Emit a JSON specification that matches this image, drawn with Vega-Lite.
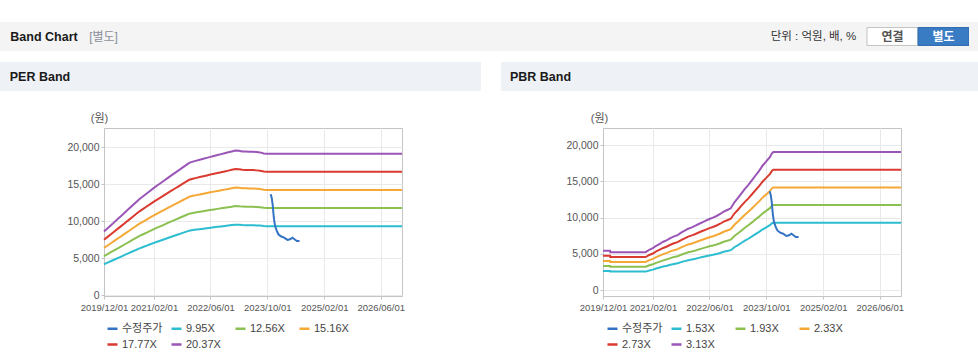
{
  "$schema": "https://vega.github.io/schema/vega-lite/v6.json",
  "padding": {"top": 22, "left": 0, "right": 0, "bottom": 0},
  "background": "#ffffff",
  "bounds": "full",
  "spacing": 11,
  "resolve": {"scale": {"color": "independent", "fill": "independent", "stroke": "independent"}, "legend": {"color": "independent"}},
  "config": {
    "font": "Liberation Sans, Noto Sans CJK KR, sans-serif",
    "view": {"stroke": null},
    "axis": {"labelFontSize": 9.5, "labelColor": "#555555", "tickSize": 3, "tickColor": "#c4c4c4", "domainColor": "#c4c4c4", "gridColor": "#e9e9e9", "labelFont": "Liberation Sans, Noto Sans CJK KR, sans-serif"}
  },
  "datasets": {
    "perNames": [{"k": "a", "n": "9.95X"}, {"k": "b", "n": "12.56X"}, {"k": "c", "n": "15.16X"}, {"k": "e", "n": "17.77X"}, {"k": "f", "n": "20.37X"}],
    "pbrNames": [{"k": "a", "n": "1.53X"}, {"k": "b", "n": "1.93X"}, {"k": "c", "n": "2.33X"}, {"k": "e", "n": "2.73X"}, {"k": "f", "n": "3.13X"}],
    "perBands": [
      {"d": "2019-12-01", "a": 4203, "b": 5305, "c": 6403, "e": 7506, "f": 8604},
      {"d": "2020-01-01", "a": 4421, "b": 5580, "c": 6735, "e": 7895, "f": 9050},
      {"d": "2020-02-01", "a": 4638, "b": 5855, "c": 7067, "e": 8284, "f": 9496},
      {"d": "2020-03-01", "a": 4843, "b": 6114, "c": 7379, "e": 8649, "f": 9915},
      {"d": "2020-04-01", "a": 5060, "b": 6388, "c": 7710, "e": 9038, "f": 10360},
      {"d": "2020-05-01", "a": 5270, "b": 6652, "c": 8029, "e": 9411, "f": 10788},
      {"d": "2020-06-01", "a": 5490, "b": 6930, "c": 8364, "e": 9804, "f": 11239},
      {"d": "2020-07-01", "a": 5701, "b": 7196, "c": 8686, "e": 10181, "f": 11671},
      {"d": "2020-08-01", "a": 5919, "b": 7471, "c": 9018, "e": 10570, "f": 12117},
      {"d": "2020-09-01", "a": 6139, "b": 7749, "c": 9353, "e": 10964, "f": 12568},
      {"d": "2020-10-01", "a": 6348, "b": 8013, "c": 9672, "e": 11337, "f": 12996},
      {"d": "2020-11-01", "a": 6533, "b": 8246, "c": 9953, "e": 11667, "f": 13374},
      {"d": "2020-12-01", "a": 6711, "b": 8471, "c": 10225, "e": 11985, "f": 13739},
      {"d": "2021-01-01", "a": 6896, "b": 8704, "c": 10506, "e": 12315, "f": 14117},
      {"d": "2021-02-01", "a": 7078, "b": 8935, "c": 10785, "e": 12641, "f": 14491},
      {"d": "2021-03-01", "a": 7235, "b": 9132, "c": 11023, "e": 12920, "f": 14811},
      {"d": "2021-04-01", "a": 7404, "b": 9346, "c": 11281, "e": 13223, "f": 15158},
      {"d": "2021-05-01", "a": 7569, "b": 9554, "c": 11532, "e": 13517, "f": 15495},
      {"d": "2021-06-01", "a": 7741, "b": 9771, "c": 11794, "e": 13824, "f": 15847},
      {"d": "2021-07-01", "a": 7906, "b": 9980, "c": 12045, "e": 14119, "f": 16185},
      {"d": "2021-08-01", "a": 8071, "b": 10188, "c": 12297, "e": 14414, "f": 16523},
      {"d": "2021-09-01", "a": 8238, "b": 10399, "c": 12551, "e": 14712, "f": 16865},
      {"d": "2021-10-01", "a": 8398, "b": 10602, "c": 12796, "e": 14999, "f": 17194},
      {"d": "2021-11-01", "a": 8566, "b": 10812, "c": 13051, "e": 15298, "f": 17536},
      {"d": "2021-12-01", "a": 8728, "b": 11018, "c": 13299, "e": 15588, "f": 17869},
      {"d": "2022-01-01", "a": 8810, "b": 11122, "c": 13424, "e": 15735, "f": 18037},
      {"d": "2022-02-01", "a": 8874, "b": 11202, "c": 13520, "e": 15848, "f": 18167},
      {"d": "2022-03-01", "a": 8933, "b": 11276, "c": 13611, "e": 15954, "f": 18288},
      {"d": "2022-04-01", "a": 8997, "b": 11357, "c": 13708, "e": 16068, "f": 18419},
      {"d": "2022-05-01", "a": 9058, "b": 11435, "c": 13802, "e": 16178, "f": 18545},
      {"d": "2022-06-01", "a": 9123, "b": 11515, "c": 13899, "e": 16292, "f": 18676},
      {"d": "2022-07-01", "a": 9182, "b": 11591, "c": 13990, "e": 16399, "f": 18798},
      {"d": "2022-08-01", "a": 9241, "b": 11665, "c": 14080, "e": 16504, "f": 18919},
      {"d": "2022-09-01", "a": 9303, "b": 11743, "c": 14174, "e": 16614, "f": 19045},
      {"d": "2022-10-01", "a": 9360, "b": 11815, "c": 14261, "e": 16716, "f": 19162},
      {"d": "2022-11-01", "a": 9422, "b": 11893, "c": 14355, "e": 16826, "f": 19288},
      {"d": "2022-12-01", "a": 9479, "b": 11965, "c": 14442, "e": 16928, "f": 19405},
      {"d": "2023-01-01", "a": 9540, "b": 12043, "c": 14536, "e": 17038, "f": 19531},
      {"d": "2023-02-01", "a": 9528, "b": 12027, "c": 14516, "e": 17016, "f": 19505},
      {"d": "2023-03-01", "a": 9483, "b": 11970, "c": 14448, "e": 16936, "f": 19414},
      {"d": "2023-04-01", "a": 9472, "b": 11956, "c": 14431, "e": 16916, "f": 19391},
      {"d": "2023-05-01", "a": 9461, "b": 11943, "c": 14415, "e": 16897, "f": 19369},
      {"d": "2023-06-01", "a": 9461, "b": 11943, "c": 14415, "e": 16897, "f": 19369},
      {"d": "2023-07-01", "a": 9439, "b": 11915, "c": 14381, "e": 16857, "f": 19324},
      {"d": "2023-08-01", "a": 9417, "b": 11887, "c": 14348, "e": 16818, "f": 19279},
      {"d": "2023-09-01", "a": 9351, "b": 11804, "c": 14247, "e": 16700, "f": 19144},
      {"d": "2023-10-01", "a": 9329, "b": 11776, "c": 14214, "e": 16661, "f": 19099},
      {"d": "2026-11-30", "a": 9329, "b": 11776, "c": 14214, "e": 16661, "f": 19099}
    ],
    "pbrBands": [
      {"d": "2019-12-01", "a": 2658, "b": 3353, "c": 4047, "e": 4742, "f": 5437},
      {"d": "2020-01-31", "a": 2658, "b": 3353, "c": 4047, "e": 4742, "f": 5437},
      {"d": "2020-02-01", "a": 2568, "b": 3239, "c": 3910, "e": 4582, "f": 5253},
      {"d": "2020-12-01", "a": 2568, "b": 3239, "c": 3910, "e": 4582, "f": 5253},
      {"d": "2021-01-01", "a": 2726, "b": 3438, "c": 4151, "e": 4863, "f": 5576},
      {"d": "2021-02-01", "a": 2838, "b": 3580, "c": 4322, "e": 5064, "f": 5806},
      {"d": "2021-03-01", "a": 2996, "b": 3779, "c": 4563, "e": 5346, "f": 6129},
      {"d": "2021-04-01", "a": 3131, "b": 3949, "c": 4768, "e": 5586, "f": 6405},
      {"d": "2021-05-01", "a": 3266, "b": 4120, "c": 4974, "e": 5828, "f": 6682},
      {"d": "2021-06-01", "a": 3379, "b": 4262, "c": 5145, "e": 6029, "f": 6912},
      {"d": "2021-07-01", "a": 3514, "b": 4432, "c": 5351, "e": 6269, "f": 7188},
      {"d": "2021-08-01", "a": 3627, "b": 4575, "c": 5523, "e": 6471, "f": 7419},
      {"d": "2021-09-01", "a": 3716, "b": 4688, "c": 5660, "e": 6631, "f": 7603},
      {"d": "2021-10-01", "a": 3874, "b": 4887, "c": 5900, "e": 6913, "f": 7926},
      {"d": "2021-11-01", "a": 4009, "b": 5057, "c": 6106, "e": 7154, "f": 8202},
      {"d": "2021-12-01", "a": 4145, "b": 5228, "c": 6312, "e": 7395, "f": 8479},
      {"d": "2022-01-01", "a": 4235, "b": 5342, "c": 6449, "e": 7556, "f": 8663},
      {"d": "2022-02-01", "a": 4347, "b": 5483, "c": 6620, "e": 7756, "f": 8893},
      {"d": "2022-03-01", "a": 4460, "b": 5626, "c": 6792, "e": 7958, "f": 9124},
      {"d": "2022-04-01", "a": 4572, "b": 5768, "c": 6963, "e": 8159, "f": 9354},
      {"d": "2022-05-01", "a": 4685, "b": 5910, "c": 7135, "e": 8360, "f": 9585},
      {"d": "2022-06-01", "a": 4798, "b": 6052, "c": 7306, "e": 8561, "f": 9815},
      {"d": "2022-07-01", "a": 4888, "b": 6166, "c": 7443, "e": 8721, "f": 9999},
      {"d": "2022-08-01", "a": 5001, "b": 6308, "c": 7615, "e": 8923, "f": 10230},
      {"d": "2022-09-01", "a": 5136, "b": 6478, "c": 7821, "e": 9163, "f": 10506},
      {"d": "2022-10-01", "a": 5293, "b": 6677, "c": 8061, "e": 9445, "f": 10829},
      {"d": "2022-11-01", "a": 5406, "b": 6819, "c": 8232, "e": 9646, "f": 11059},
      {"d": "2022-12-01", "a": 5519, "b": 6962, "c": 8404, "e": 9847, "f": 11290},
      {"d": "2023-01-01", "a": 5924, "b": 7473, "c": 9021, "e": 10570, "f": 12119},
      {"d": "2023-02-01", "a": 6217, "b": 7842, "c": 9467, "e": 11093, "f": 12718},
      {"d": "2023-03-01", "a": 6510, "b": 8211, "c": 9913, "e": 11615, "f": 13317},
      {"d": "2023-04-01", "a": 6825, "b": 8609, "c": 10394, "e": 12178, "f": 13962},
      {"d": "2023-05-01", "a": 7095, "b": 8950, "c": 10805, "e": 12660, "f": 14515},
      {"d": "2023-06-01", "a": 7410, "b": 9348, "c": 11285, "e": 13223, "f": 15160},
      {"d": "2023-07-01", "a": 7726, "b": 9746, "c": 11765, "e": 13785, "f": 15805},
      {"d": "2023-08-01", "a": 8042, "b": 10144, "c": 12246, "e": 14349, "f": 16451},
      {"d": "2023-09-01", "a": 8402, "b": 10598, "c": 12795, "e": 14991, "f": 17188},
      {"d": "2023-10-01", "a": 8672, "b": 10939, "c": 13207, "e": 15474, "f": 17741},
      {"d": "2023-11-01", "a": 8965, "b": 11309, "c": 13653, "e": 15996, "f": 18340},
      {"d": "2023-11-20", "a": 9235, "b": 11650, "c": 14064, "e": 16479, "f": 18893},
      {"d": "2023-12-01", "a": 9303, "b": 11735, "c": 14167, "e": 16599, "f": 19031},
      {"d": "2026-11-30", "a": 9303, "b": 11735, "c": 14167, "e": 16599, "f": 19031}
    ],
    "price": [
      {"d": "2023-10-31", "v": 13650},
      {"d": "2023-11-09", "v": 13110},
      {"d": "2023-11-17", "v": 12210},
      {"d": "2023-11-23", "v": 11080},
      {"d": "2023-11-29", "v": 10180},
      {"d": "2023-12-07", "v": 9410},
      {"d": "2023-12-22", "v": 8690},
      {"d": "2024-01-05", "v": 8240},
      {"d": "2024-01-25", "v": 7970},
      {"d": "2024-02-23", "v": 7790},
      {"d": "2024-03-22", "v": 7480},
      {"d": "2024-04-14", "v": 7570},
      {"d": "2024-05-04", "v": 7790},
      {"d": "2024-05-22", "v": 7570},
      {"d": "2024-06-11", "v": 7340},
      {"d": "2024-07-04", "v": 7340}
    ]
  },
  "vconcat": [
    {
      "hconcat": [
        {"width": 88, "height": 29, "view": {"fill": "#f4f4f4"}, "data": {"values": [{"t": "Band Chart"}]}, "mark": {"type": "text", "fontSize": 12.5, "fontWeight": "bold", "color": "#1a1a1a"}, "encoding": {"text": {"field": "t", "type": "nominal"}}},
        {"width": 31, "height": 29, "view": {"fill": "#f4f4f4"}, "data": {"values": [{"t": "[별도]"}]}, "mark": {"type": "text", "fontSize": 12, "color": "#8a8f99"}, "encoding": {"text": {"field": "t", "type": "nominal"}}},
        {"width": 641, "height": 29, "view": {"fill": "#f4f4f4"}, "data": {"values": []}, "mark": {"type": "point"}},
        {"width": 107, "height": 29, "view": {"fill": "#f4f4f4"}, "data": {"values": [{"t": "단위 : 억원, 배, %"}]}, "mark": {"type": "text", "fontSize": 11.5, "color": "#333333"}, "encoding": {"text": {"field": "t", "type": "nominal"}}},
        {
          "width": 102, "height": 29, "view": {"fill": "#f4f4f4"},
          "data": {"values": [{"b": "연결", "on": "n", "r": "r"}, {"b": "별도", "on": "y", "r": "r"}]},
          "layer": [
            {"mark": {"type": "rect", "strokeWidth": 1},
             "encoding": {
               "x": {"field": "b", "type": "nominal", "sort": null, "scale": {"paddingInner": 0, "paddingOuter": 0}, "axis": null},
               "y": {"field": "r", "type": "nominal", "scale": {"paddingInner": 0, "paddingOuter": 0.31}, "axis": null},
               "fill": {"field": "on", "type": "nominal", "scale": {"domain": ["n", "y"], "range": ["#ffffff", "#3a7cc4"]}, "legend": null},
               "stroke": {"field": "on", "type": "nominal", "scale": {"domain": ["n", "y"], "range": ["#c3c3c3", "#2f6aae"]}, "legend": null}
             }},
            {"mark": {"type": "text", "fontSize": 12, "fontWeight": "bold"},
             "encoding": {
               "x": {"field": "b", "type": "nominal", "sort": null, "axis": null},
               "y": {"field": "r", "type": "nominal", "axis": null},
               "text": {"field": "b", "type": "nominal"},
               "color": {"field": "on", "type": "nominal", "scale": {"domain": ["n", "y"], "range": ["#555555", "#ffffff"]}, "legend": null}
             }}
          ]
        },
        {"width": 9, "height": 29, "view": {"fill": "#f4f4f4"}, "data": {"values": []}, "mark": {"type": "point"}}
      ],
      "spacing": 0,
      "bounds": "flush"
    },
    {
      "hconcat": [
        {
          "vconcat": [
            {
              "hconcat": [
                {"width": 80, "height": 29, "view": {"fill": "#eef1f6"}, "data": {"values": [{"t": "PER Band"}]}, "mark": {"type": "text", "fontSize": 12.5, "fontWeight": "bold", "color": "#1a1a1a"}, "encoding": {"text": {"field": "t", "type": "nominal"}}},
                {"width": 401, "height": 29, "view": {"fill": "#eef1f6"}, "data": {"values": []}, "mark": {"type": "point"}}
              ],
              "spacing": 0, "bounds": "flush"
            },
            {
              "hconcat": [
                {"width": 104, "height": 168, "data": {"values": []}, "mark": {"type": "point"}},
                {
                  "width": 298, "height": 168,
                  "view": {"stroke": "#c4c4c4", "fill": "#ffffff"},
                  "encoding": {
                    "x": {"field": "d", "type": "temporal",
                          "scale": {"type": "utc", "domain": [{"year": 2019, "month": 12, "date": 1, "utc": true}, {"year": 2026, "month": 11, "date": 30, "utc": true}]},
                          "axis": {"title": null, "format": "%Y/%m/%d", "labelFlush": false, "labelOverlap": false, "labelPadding": 3,
                                   "values": [{"year": 2019, "month": 12, "date": 1, "utc": true}, {"year": 2021, "month": 2, "date": 1, "utc": true}, {"year": 2022, "month": 6, "date": 1, "utc": true}, {"year": 2023, "month": 10, "date": 1, "utc": true}, {"year": 2025, "month": 2, "date": 1, "utc": true}, {"year": 2026, "month": 6, "date": 1, "utc": true}]}},
                    "y": {"field": "v", "type": "quantitative",
                          "scale": {"domain": [-80, 22570], "nice": false, "zero": false},
                          "axis": {"values": [0, 5000, 10000, 15000, 20000], "format": ",.0f", "labelFontSize": 10.5, "labelPadding": 2,
                                   "title": "(원)", "titleAngle": 0, "titleX": -5, "titleY": -10, "titleAlign": "center", "titleBaseline": "middle", "titleFontSize": 11, "titleFontWeight": "normal", "titleColor": "#555555"}}
                  },
                  "layer": [
                    {
                      "data": {"name": "perBands"},
                      "transform": [
                        {"fold": ["a", "b", "c", "e", "f"], "as": ["k", "v"]},
                        {"lookup": "k", "from": {"data": {"name": "perNames"}, "key": "k", "fields": ["n"]}}
                      ],
                      "mark": {"type": "line", "strokeWidth": 2},
                      "encoding": {
                        "color": {"field": "n", "type": "nominal",
                                  "scale": {"domain": ["수정주가", "9.95X", "12.56X", "15.16X", "17.77X", "20.37X"], "range": ["#3473c4", "#2dbdd0", "#8cc152", "#f5a836", "#da3a2f", "#9a55b6"]},
                                  "legend": {"title": null, "orient": "none", "legendX": 2, "legendY": 194, "direction": "horizontal", "columns": 4, "gridAlign": "all", "columnPadding": 3, "rowPadding": 4, "padding": 0,
                                             "symbolType": "stroke", "symbolSize": 100, "symbolStrokeWidth": 2.5, "labelFontSize": 11, "labelColor": "#444444", "labelOffset": 3}}
                      }
                    },
                    {
                      "data": {"name": "price"},
                      "mark": {"type": "line", "strokeWidth": 2},
                      "encoding": {"color": {"datum": "수정주가"}}
                    }
                  ]
                }
              ],
              "spacing": 0, "bounds": "flush",
              "resolve": {"scale": {"color": "independent"}, "legend": {"color": "independent"}}
            }
          ],
          "spacing": 20, "bounds": "full",
          "resolve": {"scale": {"color": "independent"}, "legend": {"color": "independent"}}
        },
        {
          "vconcat": [
            {
              "hconcat": [
                {"width": 79, "height": 29, "view": {"fill": "#eef1f6"}, "data": {"values": [{"t": "PBR Band"}]}, "mark": {"type": "text", "fontSize": 12.5, "fontWeight": "bold", "color": "#1a1a1a"}, "encoding": {"text": {"field": "t", "type": "nominal"}}},
                {"width": 398, "height": 29, "view": {"fill": "#eef1f6"}, "data": {"values": []}, "mark": {"type": "point"}}
              ],
              "spacing": 0, "bounds": "flush"
            },
            {
              "hconcat": [
                {"width": 102, "height": 168, "data": {"values": []}, "mark": {"type": "point"}},
                {
                  "width": 298, "height": 168,
                  "view": {"stroke": "#c4c4c4", "fill": "#ffffff"},
                  "encoding": {
                    "x": {"field": "d", "type": "temporal",
                          "scale": {"type": "utc", "domain": [{"year": 2019, "month": 12, "date": 1, "utc": true}, {"year": 2026, "month": 11, "date": 30, "utc": true}]},
                          "axis": {"title": null, "format": "%Y/%m/%d", "labelFlush": false, "labelOverlap": false, "labelPadding": 3,
                                   "values": [{"year": 2019, "month": 12, "date": 1, "utc": true}, {"year": 2021, "month": 2, "date": 1, "utc": true}, {"year": 2022, "month": 6, "date": 1, "utc": true}, {"year": 2023, "month": 10, "date": 1, "utc": true}, {"year": 2025, "month": 2, "date": 1, "utc": true}, {"year": 2026, "month": 6, "date": 1, "utc": true}]}},
                    "y": {"field": "v", "type": "quantitative",
                          "scale": {"domain": [-790, 22350], "nice": false, "zero": false},
                          "axis": {"values": [0, 5000, 10000, 15000, 20000], "format": ",.0f", "labelFontSize": 10.5, "labelPadding": 2,
                                   "title": "(원)", "titleAngle": 0, "titleX": -4, "titleY": -10, "titleAlign": "center", "titleBaseline": "middle", "titleFontSize": 11, "titleFontWeight": "normal", "titleColor": "#555555"}}
                  },
                  "layer": [
                    {
                      "data": {"name": "pbrBands"},
                      "transform": [
                        {"fold": ["a", "b", "c", "e", "f"], "as": ["k", "v"]},
                        {"lookup": "k", "from": {"data": {"name": "pbrNames"}, "key": "k", "fields": ["n"]}}
                      ],
                      "mark": {"type": "line", "strokeWidth": 2},
                      "encoding": {
                        "color": {"field": "n", "type": "nominal",
                                  "scale": {"domain": ["수정주가", "1.53X", "1.93X", "2.33X", "2.73X", "3.13X"], "range": ["#3473c4", "#2dbdd0", "#8cc152", "#f5a836", "#da3a2f", "#9a55b6"]},
                                  "legend": {"title": null, "orient": "none", "legendX": 3, "legendY": 194, "direction": "horizontal", "columns": 4, "gridAlign": "all", "columnPadding": 3, "rowPadding": 4, "padding": 0,
                                             "symbolType": "stroke", "symbolSize": 100, "symbolStrokeWidth": 2.5, "labelFontSize": 11, "labelColor": "#444444", "labelOffset": 3}}
                      }
                    },
                    {
                      "data": {"name": "price"},
                      "mark": {"type": "line", "strokeWidth": 2},
                      "encoding": {"color": {"datum": "수정주가"}}
                    }
                  ]
                }
              ],
              "spacing": 0, "bounds": "flush",
              "resolve": {"scale": {"color": "independent"}, "legend": {"color": "independent"}}
            }
          ],
          "spacing": 20, "bounds": "full",
          "resolve": {"scale": {"color": "independent"}, "legend": {"color": "independent"}}
        }
      ],
      "spacing": 20,
      "bounds": "full",
      "resolve": {"scale": {"color": "independent", "fill": "independent", "stroke": "independent"}, "legend": {"color": "independent"}}
    }
  ]
}
